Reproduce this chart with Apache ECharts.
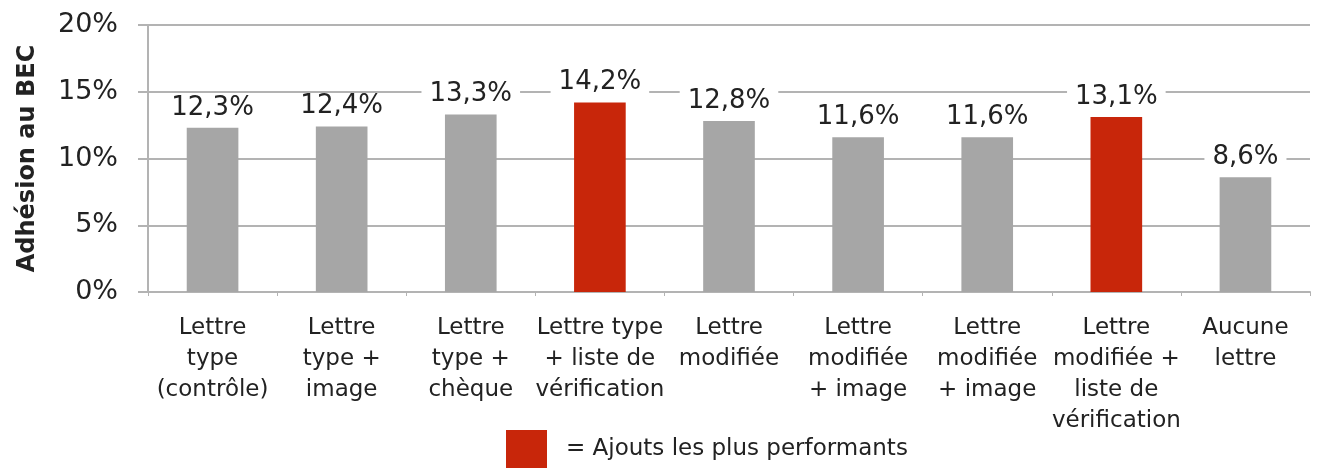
<!DOCTYPE html>
<html>
<head>
<meta charset="utf-8">
<script src="https://cdn.jsdelivr.net/npm/echarts@6/dist/echarts.min.js"></script>
<style>
    html, body { margin: 0; padding: 0; background: #fff; }
    #chart { width: 1321px; height: 470px; }
</style>
</head>
<body>
<div id="chart"></div>
<script>
// données du graphique
var categories = [
    'Lettre\ntype\n(contrôle)',
    'Lettre\ntype +\nimage',
    'Lettre\ntype +\nchèque',
    'Lettre type\n+ liste de\nvérification',
    'Lettre\nmodifiée',
    'Lettre\nmodifiée\n+ image',
    'Lettre\nmodifiée\n+ image',
    'Lettre\nmodifiée +\nliste de\nvérification',
    'Aucune\nlettre'
];
var adhesion = [12.3, 12.4, 13.3, 14.2, 12.8, 11.6, 11.6, 13.1, 8.6];
// indices des ajouts les plus performants (barres rouges)
var meilleurs = [3, 7];
var yTicks = [0, 5, 10, 15, 20];
var legendLabel = '= Ajouts les plus performants';

var font = 'DejaVu Sans';
var txt = '#222';
var gridColor = '#b3b3b3';

function fmt (v) {
    return String(v).replace('.', ',') + '%';
}

var labelStyle = {
    show: true,
    position: 'top',
    distance: 7,
    fontFamily: font,
    fontSize: 26,
    color: txt,
    backgroundColor: '#fff',
    padding: [0, 8],
    formatter: function (p) { return fmt(p.value); }
};

var grisData = adhesion.map(function (v, i) { return meilleurs.indexOf(i) >= 0 ? '-' : v; });
var rougeData = adhesion.map(function (v, i) { return meilleurs.indexOf(i) >= 0 ? v : '-'; });

var option = {
    animation: false,
    backgroundColor: '#fff',
    grid: { left: 148, right: 11, top: 25, bottom: 178 },
    legend: {
        data: [legendLabel],
        left: 506,
        top: 430,
        padding: 0,
        icon: 'rect',
        itemWidth: 41,
        itemHeight: 38,
        itemGap: 0,
        textStyle: { fontFamily: font, fontSize: 23, color: txt, padding: [0, 0, 0, 14] }
    },
    xAxis: {
        type: 'category',
        data: categories,
        axisLine: { lineStyle: { color: gridColor, width: 2 } },
        axisTick: { show: true, length: 4, lineStyle: { color: gridColor } },
        axisLabel: {
            interval: 0,
            margin: 21,
            fontFamily: font,
            fontSize: 23,
            lineHeight: 31,
            color: txt
        }
    },
    yAxis: {
        type: 'value',
        min: 0,
        max: 20,
        interval: 5,
        name: 'Adhésion au BEC',
        nameLocation: 'middle',
        nameGap: 108,
        nameTextStyle: { fontFamily: font, fontSize: 24, fontWeight: 'bold', color: txt, padding: [0, 0, 0, 0] },
        axisLine: { show: true, lineStyle: { color: gridColor, width: 2 } },
        axisTick: { show: true, length: 10, lineStyle: { color: gridColor, width: 2 } },
        splitLine: { lineStyle: { color: gridColor, width: 2 } },
        axisLabel: {
            margin: 30,
            fontFamily: font,
            fontSize: 27,
            color: txt,
            formatter: function (v) { return yTicks.indexOf(v) >= 0 ? v + '%' : ''; }
        }
    },
    series: [
        {
            name: 'Standard',
            type: 'bar',
            stack: 'total',
            barWidth: '40%',
            data: grisData,
            itemStyle: { color: '#a6a6a6' },
            label: labelStyle
        },
        {
            name: legendLabel,
            type: 'bar',
            stack: 'total',
            barWidth: '40%',
            data: rougeData,
            itemStyle: { color: '#c8260a' },
            label: labelStyle
        }
    ]
};

var chart = echarts.init(document.getElementById('chart'));
chart.setOption(option);
</script>
</body>
</html>
